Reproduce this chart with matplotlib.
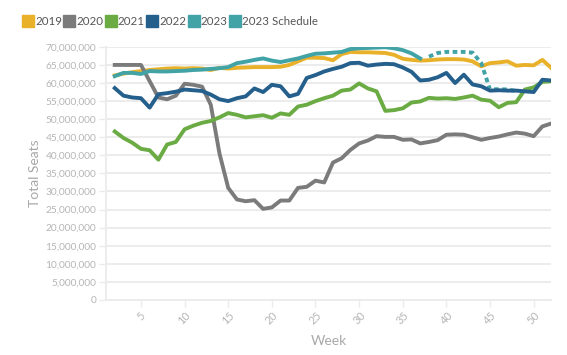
import matplotlib
matplotlib.use("Agg")
import matplotlib.pyplot as plt
from matplotlib.lines import Line2D
from matplotlib.ticker import FuncFormatter

plt.rcParams['font.family'] = ['Lato', 'DejaVu Sans']

# weeks 2..52
weeks = list(range(2, 53))

seats_2019 = [62.1, 62.6, 63.0, 63.3, 63.6, 63.8, 64.0, 64.1, 64.0, 64.1, 64.0, 63.6, 64.2, 64.0, 64.2,
              64.3, 64.4, 64.4, 64.4, 64.5, 65.0, 66.0, 67.0, 67.0, 66.9, 66.3, 68.0, 68.6, 68.5, 68.5,
              68.4, 68.3, 67.8, 66.7, 66.4, 66.2, 66.3, 66.5, 66.6, 66.6, 66.5, 66.0, 64.6, 65.5, 65.7,
              66.0, 64.8, 65.0, 64.9, 66.4, 64.2]
seats_2020 = [65.0, 65.0, 65.0, 65.0, 60.5, 56.0, 55.5, 56.5, 59.8, 59.5, 59.0, 54.0, 40.5, 31.0, 27.8,
              27.3, 27.6, 25.2, 25.6, 27.5, 27.5, 31.0, 31.3, 33.0, 32.5, 38.0, 39.2, 41.5, 43.3, 44.1,
              45.3, 45.1, 45.1, 44.3, 44.4, 43.3, 43.7, 44.2, 45.7, 45.8, 45.7, 45.0, 44.3, 44.8, 45.2,
              45.8, 46.3, 46.0, 45.3, 48.0, 48.8]
seats_2021 = [46.6, 44.8, 43.5, 41.8, 41.4, 38.8, 43.0, 43.7, 47.2, 48.2, 49.0, 49.5, 50.5, 51.7, 51.2,
              50.5, 50.8, 51.1, 50.4, 51.6, 51.2, 53.5, 54.0, 55.0, 55.8, 56.5, 57.9, 58.2, 59.9, 58.5,
              57.7, 52.3, 52.5, 53.0, 54.6, 54.9, 55.9, 55.7, 55.8, 55.6, 56.0, 56.5, 55.4, 55.1, 53.3,
              54.5, 54.7, 58.2, 58.8, 60.3, 60.5]
seats_2022 = [58.6, 56.5, 56.0, 55.8, 53.2, 56.9, 57.2, 57.6, 58.2, 58.0, 57.8, 56.8, 55.5, 55.0, 55.8,
              56.3, 58.5, 57.5, 59.5, 59.1, 56.3, 57.0, 61.4, 62.2, 63.2, 63.9, 64.5, 65.5, 65.6, 64.8,
              65.1, 65.3, 65.2, 64.3, 63.1, 60.7, 60.9, 61.6, 62.8, 60.0, 62.3, 59.6, 59.1, 57.9, 58.0,
              57.9, 57.9, 57.7, 57.5, 60.9, 60.7]
weeks_2023 = list(range(2, 38))
seats_2023 = [61.9, 62.8, 62.8, 62.5, 63.3, 63.2, 63.2, 63.3, 63.4, 63.6, 63.7, 63.9, 64.1, 64.4, 65.5,
              65.9, 66.4, 66.8, 66.2, 65.8, 66.3, 66.8, 67.5, 68.1, 68.2, 68.4, 68.6, 69.4, 69.6, 69.7,
              69.8, 69.9, 69.6, 69.1, 68.2, 66.8]
weeks_sched = list(range(38, 49))
seats_sched = [67.3, 68.3, 68.6, 68.6, 68.6, 68.4, 65.5, 58.2, 58.3, 58.2, 57.8]

colors = {'2019': '#E9B12A', '2020': '#7B7B7B', '2021': '#6AAB44', '2022': '#255F8C',
          '2023': '#41A3A5', '2023 Schedule': '#41A3A5'}

fig = plt.figure(figsize=(5.67, 3.55), dpi=100)
ax = fig.add_axes([0.187, 0.155, 0.785, 0.713])

lw = 2.8
ax.plot(weeks, [v * 1e6 for v in seats_2019], color=colors['2019'], lw=lw, solid_joinstyle='round', zorder=3)
ax.plot(weeks, [v * 1e6 for v in seats_2020], color=colors['2020'], lw=lw, solid_joinstyle='round', zorder=3)
ax.plot(weeks, [v * 1e6 for v in seats_2021], color=colors['2021'], lw=lw, solid_joinstyle='round', zorder=3)
ax.plot(weeks_2023, [v * 1e6 for v in seats_2023], color=colors['2023'], lw=lw, solid_joinstyle='round', zorder=3)
ax.plot(weeks_sched, [v * 1e6 for v in seats_sched], color=colors['2023 Schedule'], lw=lw,
        linestyle=(0, (1.2, 0.9)), zorder=3)
ax.plot(weeks, [v * 1e6 for v in seats_2022], color=colors['2022'], lw=lw, solid_joinstyle='round', zorder=4)

ax.set_xlim(1, 52)
ax.set_ylim(0, 70e6)
ax.set_yticks([i * 5e6 for i in range(15)])
ax.set_xticks(range(5, 55, 5))
ax.yaxis.set_major_formatter(FuncFormatter(lambda v, p: f"{int(v):,}"))

grid_c = '#EBEBEB'
ax.grid(axis='y', color=grid_c, lw=1.3, zorder=0)
ax.grid(axis='x', visible=False)
for s in ['top', 'right']:
    ax.spines[s].set_visible(False)
for s in ['left', 'bottom']:
    ax.spines[s].set_color(grid_c)
    ax.spines[s].set_linewidth(1.3)

ax.tick_params(axis='y', colors='#B5B5B5', labelsize=7.3, length=5, width=1, color=grid_c, pad=2)
ax.tick_params(axis='x', colors='#B5B5B5', labelsize=7.8, length=5, width=1, color=grid_c,
               labelrotation=45, pad=2)

ax.set_ylabel('Total Seats', color='#A8A8A8', fontsize=10, labelpad=3)
ax.set_xlabel('Week', color='#A8A8A8', fontsize=10, labelpad=6)

names = ['2019', '2020', '2021', '2022', '2023', '2023 Schedule']
handles = [Line2D([], [], marker='s', linestyle='none', markersize=8, markerfacecolor=colors[n],
                  markeredgecolor=colors[n]) for n in names]
fig.legend(handles, names, loc='upper left', bbox_to_anchor=(0.022, 0.985), ncol=6, frameon=False,
           handletextpad=0.15, columnspacing=0.2, handlelength=0.9, fontsize=8.3,
           labelcolor='#555555')

fig.savefig('out.png', dpi=100)
